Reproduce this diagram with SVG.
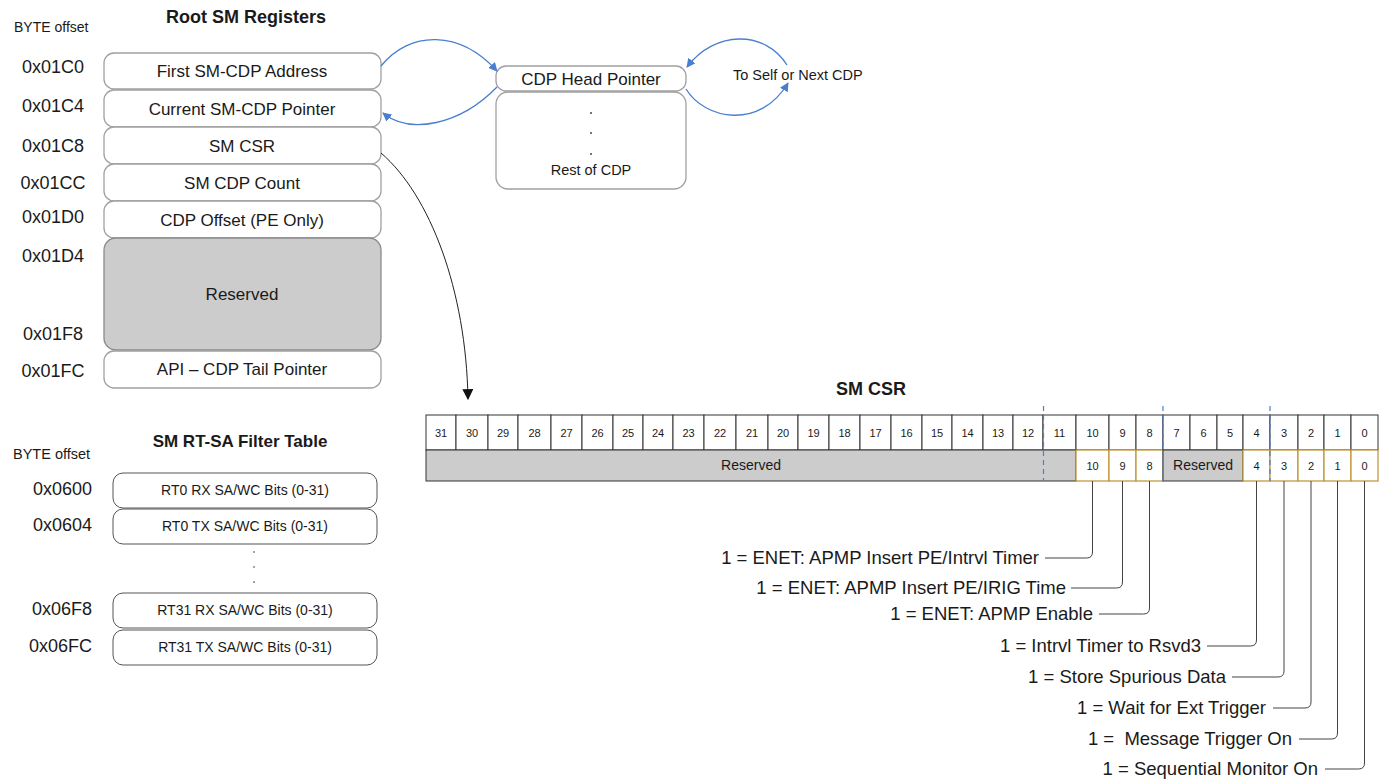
<svg xmlns="http://www.w3.org/2000/svg" width="1385" height="782" viewBox="0 0 1385 782">
<defs>
<style>
text{font-family:"Liberation Sans",Arial,sans-serif;fill:#1a1a1a}
.reg{fill:#fff;stroke:#a0a0a0;stroke-width:1.3}
.gray{fill:#cccccc;stroke:#8a8a8a;stroke-width:1.3}
.ft{fill:#fff;stroke:#555;stroke-width:1}
.off{font-size:18px;text-anchor:middle}
.offr{font-size:18px;text-anchor:end}
.bt{font-size:17px;text-anchor:middle}
.st{font-size:14px;text-anchor:middle}
.title{font-size:18px;font-weight:bold;text-anchor:middle}
.cell{fill:#fff;stroke:#333;stroke-width:1}
.cellg{fill:#cccccc;stroke:#333;stroke-width:1}
.cello{fill:#fff;stroke:#bf9130;stroke-width:1.2}
.num{font-size:11px;text-anchor:middle}
.lbl{font-size:18.5px;text-anchor:end}
.lead{fill:none;stroke:#444;stroke-width:1}
.blue{fill:none;stroke:#4a7fcf;stroke-width:1.3}
.dash{stroke:#4a7fcf;stroke-width:1.2;stroke-dasharray:5 4}
.dot{fill:#333}
</style>
<marker id="ab" viewBox="0 0 10 10" refX="9" refY="5" markerWidth="9" markerHeight="9" markerUnits="userSpaceOnUse" orient="auto">
<path d="M0,0 L10,5 L0,10 z" fill="#4a7fcf"/>
</marker>
<marker id="ak" viewBox="0 0 10 10" refX="9" refY="5" markerWidth="11" markerHeight="11" markerUnits="userSpaceOnUse" orient="auto">
<path d="M0,0 L10,5 L0,10 z" fill="#111"/>
</marker>
</defs>
<rect width="1385" height="782" fill="#fff"/>

<g id="root-title">
<text x="14" y="32" style="font-size:14px">BYTE offset</text>
<text class="title" x="246" y="23">Root SM Registers</text>
</g>

<g id="reg-01C0"><text class="off" x="53" y="73">0x01C0</text><rect class="reg" x="104" y="53" width="277" height="36" rx="10"/><text class="bt" x="242" y="77">First SM-CDP Address</text></g>
<g id="reg-01C4"><text class="off" x="53" y="112">0x01C4</text><rect class="reg" x="104" y="90" width="277" height="37" rx="10"/><text class="bt" x="242" y="115">Current SM-CDP Pointer</text></g>
<g id="reg-01C8"><text class="off" x="53" y="152">0x01C8</text><rect class="reg" x="104" y="127" width="277" height="37" rx="10"/><text class="bt" x="242" y="152">SM CSR</text></g>
<g id="reg-01CC"><text class="off" x="53" y="189">0x01CC</text><rect class="reg" x="104" y="164" width="277" height="37" rx="10"/><text class="bt" x="242" y="189">SM CDP Count</text></g>
<g id="reg-01D0"><text class="off" x="53" y="223">0x01D0</text><rect class="reg" x="104" y="201" width="277" height="37" rx="10"/><text class="bt" x="242" y="226">CDP Offset (PE Only)</text></g>
<g id="reg-reserved"><text class="off" x="53" y="262">0x01D4</text><text class="off" x="53" y="340">0x01F8</text><rect class="gray" x="104" y="238" width="277" height="112" rx="12"/><text class="bt" x="242" y="300">Reserved</text></g>
<g id="reg-01FC"><text class="off" x="53" y="377">0x01FC</text><rect class="reg" x="104" y="351" width="277" height="37" rx="10"/><text class="bt" x="242" y="375">API – CDP Tail Pointer</text></g>

<g id="cdp-head"><rect class="reg" x="496" y="66" width="190" height="25" rx="10"/><text class="bt" x="591" y="85">CDP Head Pointer</text></g>
<g id="cdp-rest"><rect class="reg" x="496" y="92" width="190" height="97" rx="12"/>
<circle class="dot" cx="591" cy="113" r="0.9"/><circle class="dot" cx="591" cy="133" r="0.9"/><circle class="dot" cx="591" cy="154" r="0.9"/>
<text class="st" x="591" y="175" style="font-size:14.5px">Rest of CDP</text></g>
<g id="cdp-next"><text x="733" y="80" style="font-size:14.5px">To Self or Next CDP</text></g>

<g id="filter-table">
<text x="13" y="459" style="font-size:14.5px">BYTE offset</text>
<text class="title" x="240" y="447" style="font-size:17px">SM RT-SA Filter Table</text>
<g id="ft-0600"><text class="offr" x="92" y="495">0x0600</text><rect class="ft" x="113" y="473" width="264" height="35" rx="10"/><text class="st" x="245" y="495">RT0 RX SA/WC Bits (0-31)</text></g>
<g id="ft-0604"><text class="offr" x="92" y="531">0x0604</text><rect class="ft" x="113" y="509" width="264" height="35" rx="10"/><text class="st" x="245" y="531">RT0 TX SA/WC Bits (0-31)</text></g>
<g id="ft-dots"><circle class="dot" cx="254" cy="552" r="0.8"/><circle class="dot" cx="254" cy="567" r="0.8"/><circle class="dot" cx="254" cy="582" r="0.8"/><circle class="dot" cx="254" cy="594" r="0.8"/></g>
<g id="ft-06F8"><text class="offr" x="92" y="615">0x06F8</text><rect class="ft" x="113" y="593" width="264" height="35" rx="10"/><text class="st" x="245" y="615">RT31 RX SA/WC Bits (0-31)</text></g>
<g id="ft-06FC"><text class="offr" x="92" y="652">0x06FC</text><rect class="ft" x="113" y="630" width="264" height="35" rx="10"/><text class="st" x="245" y="652">RT31 TX SA/WC Bits (0-31)</text></g>
</g>

<g id="sm-csr">
<text class="title" x="871" y="395">SM CSR</text>
<g id="bits-top">
<rect class="cell" x="426" y="415" width="30" height="35"/><text class="num" x="441" y="437">31</text>
<rect class="cell" x="456" y="415" width="32" height="35"/><text class="num" x="472" y="437">30</text>
<rect class="cell" x="488" y="415" width="30" height="35"/><text class="num" x="503" y="437">29</text>
<rect class="cell" x="518" y="415" width="33" height="35"/><text class="num" x="534.5" y="437">28</text>
<rect class="cell" x="551" y="415" width="31" height="35"/><text class="num" x="566.5" y="437">27</text>
<rect class="cell" x="582" y="415" width="31" height="35"/><text class="num" x="597.5" y="437">26</text>
<rect class="cell" x="613" y="415" width="30" height="35"/><text class="num" x="628" y="437">25</text>
<rect class="cell" x="643" y="415" width="30" height="35"/><text class="num" x="658" y="437">24</text>
<rect class="cell" x="673" y="415" width="31" height="35"/><text class="num" x="688.5" y="437">23</text>
<rect class="cell" x="704" y="415" width="32" height="35"/><text class="num" x="720" y="437">22</text>
<rect class="cell" x="736" y="415" width="32" height="35"/><text class="num" x="752" y="437">21</text>
<rect class="cell" x="768" y="415" width="30" height="35"/><text class="num" x="783" y="437">20</text>
<rect class="cell" x="798" y="415" width="31" height="35"/><text class="num" x="813.5" y="437">19</text>
<rect class="cell" x="829" y="415" width="31" height="35"/><text class="num" x="844.5" y="437">18</text>
<rect class="cell" x="860" y="415" width="31" height="35"/><text class="num" x="875.5" y="437">17</text>
<rect class="cell" x="891" y="415" width="31" height="35"/><text class="num" x="906.5" y="437">16</text>
<rect class="cell" x="922" y="415" width="30" height="35"/><text class="num" x="937" y="437">15</text>
<rect class="cell" x="952" y="415" width="31" height="35"/><text class="num" x="967.5" y="437">14</text>
<rect class="cell" x="983" y="415" width="30" height="35"/><text class="num" x="998" y="437">13</text>
<rect class="cell" x="1013" y="415" width="30" height="35"/><text class="num" x="1028" y="437">12</text>
<rect class="cell" x="1043" y="415" width="33" height="35"/><text class="num" x="1059.5" y="437">11</text>
<rect class="cell" x="1076" y="415" width="33" height="35"/><text class="num" x="1092.5" y="437">10</text>
<rect class="cell" x="1109" y="415" width="27" height="35"/><text class="num" x="1122.5" y="437">9</text>
<rect class="cell" x="1136" y="415" width="27" height="35"/><text class="num" x="1149.5" y="437">8</text>
<rect class="cell" x="1163" y="415" width="27" height="35"/><text class="num" x="1176.5" y="437">7</text>
<rect class="cell" x="1190" y="415" width="27" height="35"/><text class="num" x="1203.5" y="437">6</text>
<rect class="cell" x="1217" y="415" width="26" height="35"/><text class="num" x="1230" y="437">5</text>
<rect class="cell" x="1243" y="415" width="27" height="35"/><text class="num" x="1256.5" y="437">4</text>
<rect class="cell" x="1270" y="415" width="28" height="35"/><text class="num" x="1284" y="437">3</text>
<rect class="cell" x="1298" y="415" width="26" height="35"/><text class="num" x="1311" y="437">2</text>
<rect class="cell" x="1324" y="415" width="27" height="35"/><text class="num" x="1337.5" y="437">1</text>
<rect class="cell" x="1351" y="415" width="27" height="35"/><text class="num" x="1364.5" y="437">0</text>
</g>
<g id="bits-bottom">
<rect class="cellg" x="426" y="450" width="650" height="31"/><text class="st" x="751" y="470">Reserved</text>
<rect class="cello" x="1076" y="450" width="33" height="31"/><text class="num" x="1092.5" y="470">10</text>
<rect class="cello" x="1109" y="450" width="27" height="31"/><text class="num" x="1122.5" y="470">9</text>
<rect class="cello" x="1136" y="450" width="27" height="31"/><text class="num" x="1149.5" y="470">8</text>
<rect class="cellg" x="1163" y="450" width="80" height="31"/><text class="st" x="1203" y="470">Reserved</text>
<rect class="cello" x="1243" y="450" width="27" height="31"/><text class="num" x="1256.5" y="470">4</text>
<rect class="cello" x="1270" y="450" width="28" height="31"/><text class="num" x="1284" y="470">3</text>
<rect class="cello" x="1298" y="450" width="26" height="31"/><text class="num" x="1311" y="470">2</text>
<rect class="cello" x="1324" y="450" width="27" height="31"/><text class="num" x="1337.5" y="470">1</text>
<rect class="cello" x="1351" y="450" width="27" height="31"/><text class="num" x="1364.5" y="470">0</text>
</g>
<g id="bit-dividers">
<line class="dash" x1="1043.5" y1="406" x2="1043.5" y2="481"/>
<line class="dash" x1="1163" y1="406" x2="1163" y2="481"/>
<line class="dash" x1="1270" y1="406" x2="1270" y2="481"/>
</g>
</g>

<g id="bit-labels">
<text class="lbl" x="1039" y="564">1 = ENET: APMP Insert PE/Intrvl Timer</text>
<text class="lbl" x="1066" y="594">1 = ENET: APMP Insert PE/IRIG Time</text>
<text class="lbl" x="1093" y="620">1 = ENET: APMP Enable</text>
<text class="lbl" x="1201" y="652">1 = Intrvl Timer to Rsvd3</text>
<text class="lbl" x="1226" y="683">1 = Store Spurious Data</text>
<text class="lbl" x="1266" y="714">1 = Wait for Ext Trigger</text>
<text class="lbl" x="1292" y="745" xml:space="preserve">1 =  Message Trigger On</text>
<text class="lbl" x="1318" y="775">1 = Sequential Monitor On</text>
</g>

<g id="connectors">
<path class="blue" d="M381,66 C410,30 460,30 497,71" marker-end="url(#ab)"/>
<path class="blue" d="M497,87 C460,125 410,135 383,113" marker-end="url(#ab)"/>
<path class="blue" d="M686,89 C705,120 760,130 788,83" marker-end="url(#ab)"/>
<path class="blue" d="M787,65 C765,30 715,30 687,67" marker-end="url(#ab)"/>
<path d="M381,153 C430,195 466,290 468,399" fill="none" stroke="#222" stroke-width="1" marker-end="url(#ak)"/>
<path class="lead" d="M1045,558 H1086.5 Q1092.5,558 1092.5,552 V481"/>
<path class="lead" d="M1071,588 H1116.5 Q1122.5,588 1122.5,582 V481"/>
<path class="lead" d="M1099,614 H1143.5 Q1149.5,614 1149.5,608 V481"/>
<path class="lead" d="M1207,646 H1250.5 Q1256.5,646 1256.5,640 V481"/>
<path class="lead" d="M1232,677 H1278 Q1284,677 1284,671 V481"/>
<path class="lead" d="M1273,708 H1305 Q1311,708 1311,702 V481"/>
<path class="lead" d="M1299,739 H1331.5 Q1337.5,739 1337.5,733 V481"/>
<path class="lead" d="M1325,769 H1358.5 Q1364.5,769 1364.5,763 V481"/>
</g>
</svg>
